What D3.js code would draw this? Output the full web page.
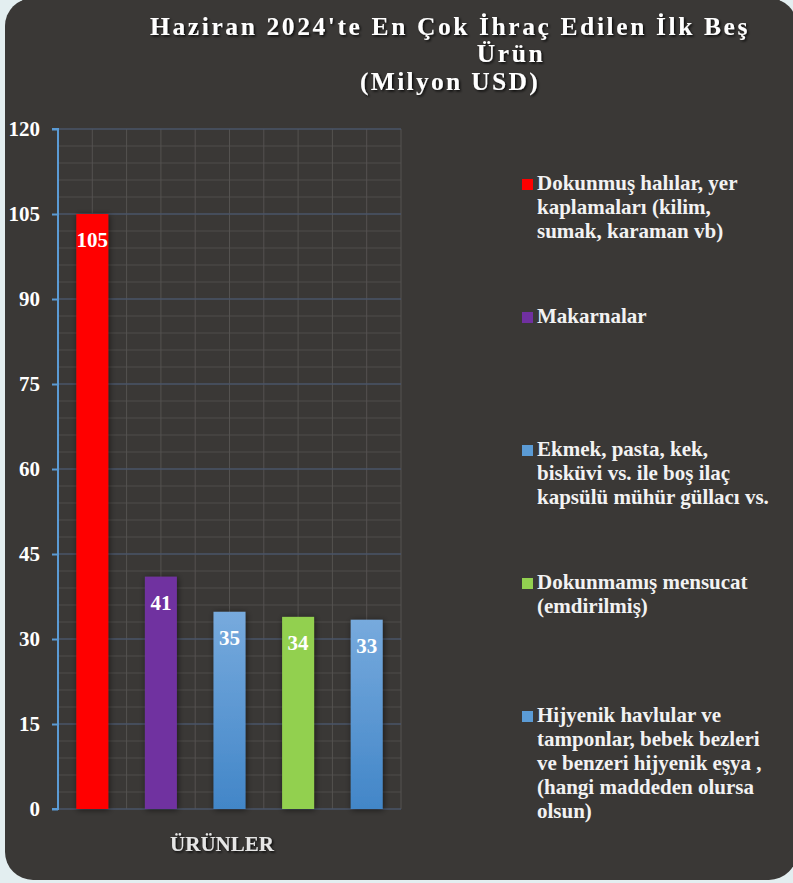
<!DOCTYPE html>
<html><head><meta charset="utf-8">
<script src="https://cdn.jsdelivr.net/npm/d3@7"></script>
<style>
html,body{margin:0;padding:0;background:#e3eef0;}
svg{display:block;}
text{font-family:"Liberation Serif","Times New Roman",serif;font-weight:bold;}
</style></head>
<body>
<svg id="chart" width="793" height="883"></svg>
<script>
const categories = [
  "Dokunmuş halılar, yer kaplamaları (kilim, sumak, karaman vb)",
  "Makarnalar",
  "Ekmek, pasta, kek, bisküvi vs. ile boş ilaç kapsülü mühür güllacı vs.",
  "Dokunmamış mensucat (emdirilmiş)",
  "Hijyenik havlular ve tamponlar, bebek bezleri ve benzeri hijyenik eşya , (hangi maddeden olursa olsun)"
];
const values = [105, 41, 34.8, 33.9, 33.4];
const legendLines = [
  ["Dokunmuş halılar, yer", "kaplamaları (kilim,", "sumak, karaman vb)"],
  ["Makarnalar"],
  ["Ekmek, pasta, kek,", "bisküvi vs. ile boş ilaç", "kapsülü mühür güllacı vs."],
  ["Dokunmamış mensucat", "(emdirilmiş)"],
  ["Hijyenik havlular ve", "tamponlar, bebek bezleri", "ve benzeri hijyenik eşya ,", "(hangi maddeden olursa", "olsun)"]
];
const colors = ["red", "purple", "blue", "green", "blue"];
const yTicks = [0, 15, 30, 45, 60, 75, 90, 105, 120];
const titleLines = ["Haziran 2024'te En Çok İhraç Edilen İlk Beş", "Ürün", "(Milyon USD)"];
const xAxisTitle = "ÜRÜNLER";

const svg = d3.select("#chart");
const defs = svg.append("defs");

const fillMap = {red: "#ff0000", purple: "#7030a0", green: "#92d050", blue: "url(#blueGrad)"};
const g1 = defs.append("linearGradient").attr("id", "blueGrad").attr("x1", 0).attr("y1", 0).attr("x2", 0).attr("y2", 1);
g1.append("stop").attr("offset", "0%").attr("stop-color", "#77aadd");
g1.append("stop").attr("offset", "100%").attr("stop-color", "#4286c8");

const sh = defs.append("filter").attr("id", "barShadow").attr("x", "-50%").attr("y", "-10%").attr("width", "200%").attr("height", "120%");
sh.append("feDropShadow").attr("dx", 1).attr("dy", 1).attr("stdDeviation", 3).attr("flood-color", "#000").attr("flood-opacity", 0.55);
const ts = defs.append("filter").attr("id", "textShadow").attr("x", "-10%").attr("y", "-30%").attr("width", "120%").attr("height", "160%");
ts.append("feDropShadow").attr("dx", 1.5).attr("dy", 1.5).attr("stdDeviation", 1.2).attr("flood-color", "#000").attr("flood-opacity", 0.8);

// panel
svg.append("rect").attr("x", 5).attr("y", -2).attr("width", 792).attr("height", 882)
  .attr("rx", 28).attr("fill", "#3a3836");

const plot = {left: 58, right: 401, top: 129, bottom: 809};
const y = d3.scaleLinear().domain([0, 120]).range([plot.bottom, plot.top]);
const x = d3.scaleBand().domain(categories).range([plot.left, plot.right])
  .paddingInner(0.534).paddingOuter(0.267);
const step = x.step();

// minor horizontal grid
const minor = d3.range(0, 121, 3).filter(v => v % 15 !== 0);
svg.append("g").selectAll("line").data(minor).join("line")
  .attr("x1", plot.left).attr("x2", plot.right)
  .attr("y1", d => y(d)).attr("y2", d => y(d))
  .attr("stroke", "#4e4c4a").attr("stroke-width", 1);
// vertical grid
const vx = [];
categories.forEach(c => {
  vx.push(x(c) + x.bandwidth() / 2);
  vx.push(x(c) + x.bandwidth() / 2 + step / 2);
});
svg.append("g").selectAll("line").data(vx).join("line")
  .attr("x1", d => d).attr("x2", d => d)
  .attr("y1", plot.top).attr("y2", plot.bottom)
  .attr("stroke", "#545250").attr("stroke-width", 1);
// major horizontal grid
svg.append("g").selectAll("line").data(yTicks).join("line")
  .attr("x1", plot.left).attr("x2", plot.right)
  .attr("y1", d => y(d)).attr("y2", d => y(d))
  .attr("stroke", "#4a5568").attr("stroke-width", 1.5);

// bars
svg.append("g").selectAll("rect").data(values).join("rect")
  .attr("x", (d, i) => x(categories[i]))
  .attr("width", x.bandwidth())
  .attr("y", d => y(d))
  .attr("height", d => y(0) - y(d))
  .attr("fill", (d, i) => fillMap[colors[i]])
  .attr("filter", "url(#barShadow)");

// data labels
const fmt = d3.format(".0f");
svg.append("g").selectAll("text").data(values).join("text")
  .attr("x", (d, i) => x(categories[i]) + x.bandwidth() / 2)
  .attr("y", d => y(d) + 33)
  .attr("text-anchor", "middle")
  .attr("fill", "#ffffff").attr("font-size", 21)
  .text(d => fmt(d));

// y axis
const yAxis = d3.axisLeft(y).tickValues(yTicks).tickSize(6).tickPadding(12).tickFormat(d3.format("d"));
const ya = svg.append("g").attr("transform", `translate(${plot.left},0)`).call(yAxis);
ya.select(".domain").attr("stroke", "#5b9bd5").attr("stroke-width", 2)
  .attr("d", `M-6,${plot.top}H0V${plot.bottom}H-6`);
ya.selectAll(".tick line").attr("stroke", "#5b9bd5").attr("stroke-width", 2);
ya.selectAll(".tick text").attr("fill", "#ffffff").attr("font-size", 21)
  .attr("font-family", "Liberation Serif, serif").attr("font-weight", "bold").attr("dy", "0.32em");

// x axis title
svg.append("text").attr("x", 222).attr("y", 851).attr("text-anchor", "middle")
  .attr("fill", "#e6e6e6").attr("font-size", 21).attr("filter", "url(#textShadow)")
  .text(xAxisTitle);

// title
const titlePos = [{cx: 450, y: 35, w: 600}, {cx: 511, y: 62}, {cx: 450, y: 90, w: 180}];
let ls0 = 0;
titleLines.forEach((t, i) => {
  const el = svg.append("text").attr("x", titlePos[i].cx).attr("y", titlePos[i].y)
    .attr("text-anchor", "middle").attr("fill", "#ffffff").attr("font-size", 25.5)
    .attr("filter", "url(#textShadow)").text(t);
  const w = el.node().getComputedTextLength();
  let ls = ls0;
  if (titlePos[i].w) ls = Math.max(0, (titlePos[i].w - w) / t.length);
  if (i === 0) ls0 = ls;
  el.style("letter-spacing", ls + "px");
});

// legend
const lg = svg.append("g");
legendLines.forEach((lines, i) => {
  const by = 190 + i * 133;
  lg.append("rect").attr("x", 522).attr("y", by - 11).attr("width", 11).attr("height", 11)
    .attr("fill", colors[i] === "blue" ? "#5b9bd5" : fillMap[colors[i]]);
  lines.forEach((ln, j) => {
    lg.append("text").attr("x", 537).attr("y", by + j * 24)
      .attr("fill", "#f2f2f2").attr("font-size", 21).text(ln);
  });
});
</script>
</body></html>
